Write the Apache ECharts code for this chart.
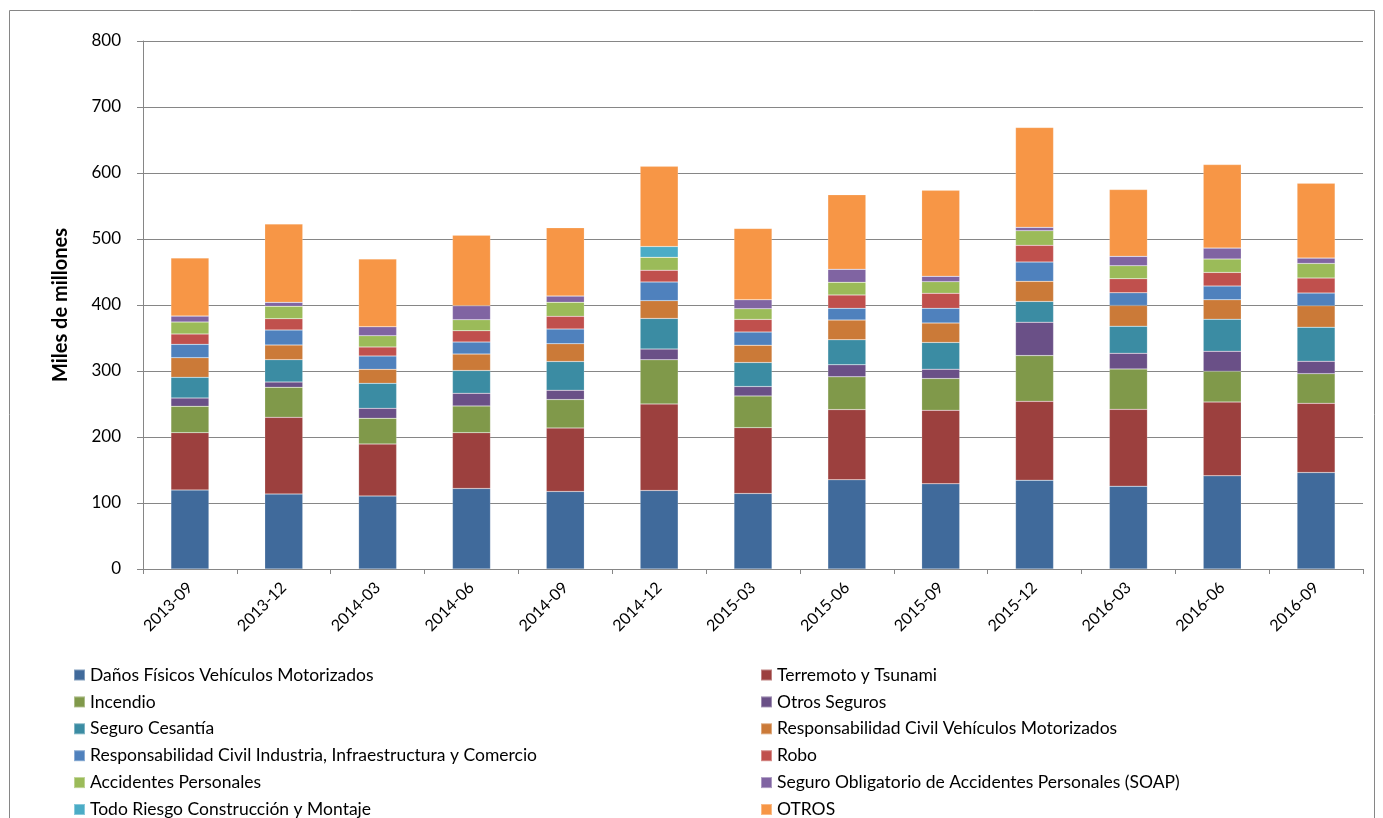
<!DOCTYPE html>
<html>
<head>
<meta charset="utf-8">
<script src="https://cdn.jsdelivr.net/npm/echarts@6/dist/echarts.min.js"></script>
<style>
  html, body { margin: 0; padding: 0; background: #fff; }
  #main { width: 1383px; height: 818px; }
</style>
</head>
<body>
<div id="main"></div>
<script>
// trimestres
var categories = ['2013-09', '2013-12', '2014-03', '2014-06', '2014-09', '2014-12', '2015-03',
  '2015-06', '2015-09', '2015-12', '2016-03', '2016-06', '2016-09'];

// valores en miles de millones
var danosFisicos  = [119.7, 113.6, 110.6, 122.0, 117.5, 119.0, 114.4, 135.2, 129.1, 134.6, 125.5, 141.2, 146.2];
var terremoto     = [86.9, 116.2, 78.8, 84.6, 96.2, 131.1, 99.8, 106.3, 111.4, 119.4, 116.4, 111.8, 104.8];
var incendio      = [39.9, 45.5, 38.9, 40.5, 43.0, 66.9, 48.1, 49.6, 48.1, 69.4, 61.2, 46.6, 45.0];
var otrosSeguros  = [12.6, 8.0, 15.1, 19.2, 14.2, 16.2, 14.2, 18.3, 14.2, 50.6, 23.8, 30.3, 18.8];
var cesantia      = [31.3, 33.9, 37.9, 34.5, 43.5, 46.5, 36.4, 37.9, 40.5, 31.4, 41.0, 48.6, 51.6];
var rcVehiculos   = [29.8, 22.2, 21.2, 24.8, 26.9, 26.9, 26.3, 29.9, 29.4, 30.4, 31.4, 29.4, 32.4];
var rcIndustria   = [20.2, 22.7, 20.2, 18.2, 22.2, 28.3, 19.8, 17.7, 22.2, 29.3, 19.2, 20.7, 19.2];
var robo          = [15.7, 17.2, 13.7, 17.2, 19.3, 17.8, 19.2, 20.3, 22.8, 25.3, 21.3, 20.8, 22.8];
var accidentes    = [18.1, 18.7, 17.1, 16.7, 21.3, 19.7, 16.2, 19.2, 17.7, 22.2, 19.7, 20.2, 22.2];
var soap          = [9.1, 6.0, 13.7, 21.3, 9.6, 0, 13.7, 19.8, 8.1, 5.1, 14.2, 16.7, 8.1];
var todoRiesgo    = [0, 0, 0, 0, 0, 16.2, 0, 0, 0, 0, 0, 0, 0];
var otros         = [87.9, 118.7, 102.5, 106.8, 103.3, 121.5, 107.9, 112.9, 130.2, 151.2, 101.2, 126.4, 113.4];

var yTicks = [0, 100, 200, 300, 400, 500, 600, 700, 800];

var seriesDef = [
  ['Daños Físicos Vehículos Motorizados', danosFisicos, '#406a9b'],
  ['Terremoto y Tsunami', terremoto, '#9c403e'],
  ['Incendio', incendio, '#80994a'],
  ['Otros Seguros', otrosSeguros, '#6a5087'],
  ['Seguro Cesantía', cesantia, '#3b8ca3'],
  ['Responsabilidad Civil Vehículos Motorizados', rcVehiculos, '#cb7a38'],
  ['Responsabilidad Civil Industria, Infraestructura y Comercio', rcIndustria, '#4f81bd'],
  ['Robo', robo, '#c0504d'],
  ['Accidentes Personales', accidentes, '#9bbb59'],
  ['Seguro Obligatorio de Accidentes Personales (SOAP)', soap, '#8064a2'],
  ['Todo Riesgo Construcción y Montaje', todoRiesgo, '#4bacc6'],
  ['OTROS', otros, '#f79646']
];

var FONT = 'Lato';

var series = seriesDef.map(function (s) {
  return {
    name: s[0],
    type: 'bar',
    stack: 'total',
    barWidth: 38,
    data: s[1],
    itemStyle: { color: s[2], borderColor: 'rgba(255,255,255,0.35)', borderWidth: 0.5 },
    emphasis: { disabled: true }
  };
});

var legendText = { fontFamily: FONT, fontSize: 17.5, color: '#000', lineHeight: 20 };

function legendCol(left, idx) {
  return {
    orient: 'vertical',
    left: left,
    top: 665,
    height: 200,
    padding: 0,
    itemWidth: 11,
    itemHeight: 11,
    itemGap: 6.9,
    icon: 'rect',
    textStyle: legendText,
    data: idx.map(function (i) { return seriesDef[i][0]; })
  };
}

var myChart = echarts.init(document.getElementById('main'));
var option = {
  backgroundColor: '#fff',
  animation: false,
  color: seriesDef.map(function (s) { return s[2]; }),
  graphic: [{
    type: 'rect',
    shape: { x: 9.5, y: 10.5, width: 1365, height: 830 },
    style: { fill: 'none', stroke: '#868686', lineWidth: 1 },
    silent: true
  }],
  grid: { left: 143, right: 20, top: 41, bottom: 249 },
  legend: [legendCol(73, [0, 2, 4, 6, 8, 10]), legendCol(760, [1, 3, 5, 7, 9, 11])],
  xAxis: {
    type: 'category',
    data: categories,
    axisLine: { lineStyle: { color: '#868686' } },
    axisTick: { show: true, length: 5, alignWithLabel: false, lineStyle: { color: '#868686' } },
    axisLabel: { rotate: 45, fontFamily: FONT, fontSize: 16, color: '#000', margin: 16 }
  },
  yAxis: {
    type: 'value',
    min: yTicks[0],
    max: yTicks[yTicks.length - 1],
    interval: 100,
    name: 'Miles de millones',
    nameLocation: 'middle',
    nameGap: 72,
    nameTextStyle: { fontFamily: FONT, fontSize: 20, fontWeight: 'bold', color: '#000' },
    axisLine: { show: true, lineStyle: { color: '#868686' } },
    axisTick: { show: true, length: 6, lineStyle: { color: '#868686' } },
    axisLabel: { fontFamily: FONT, fontSize: 17, color: '#000', margin: 22 },
    splitLine: { lineStyle: { color: '#868686', width: 1 } }
  },
  series: series
};
myChart.setOption(option);
</script>
</body>
</html>
